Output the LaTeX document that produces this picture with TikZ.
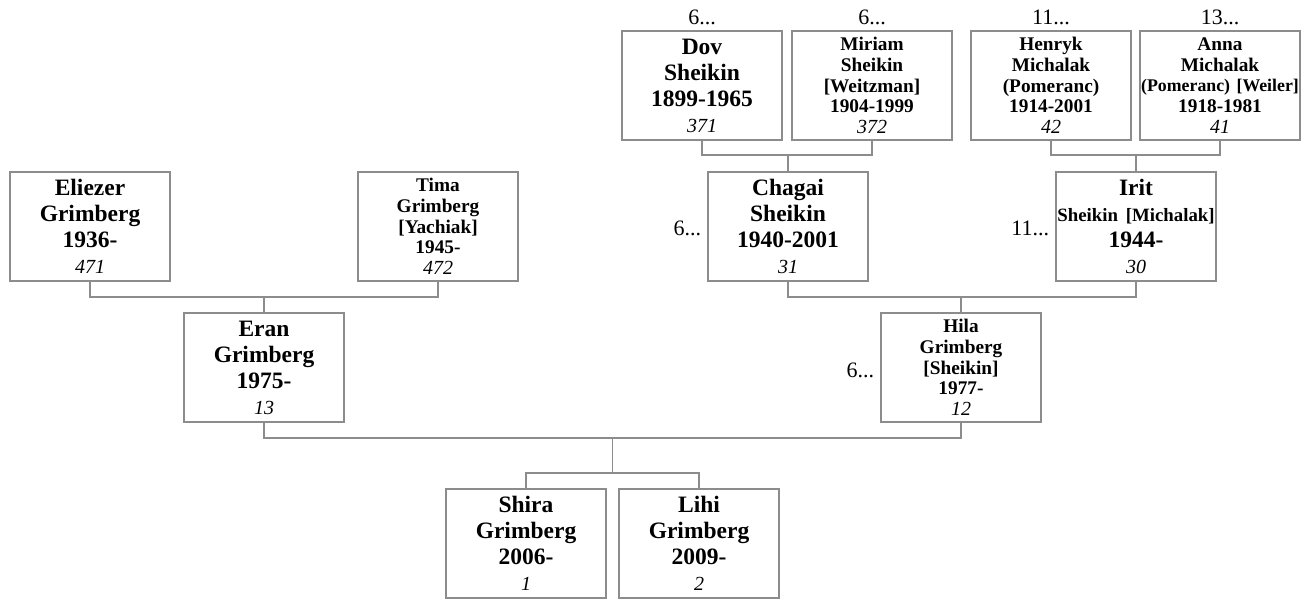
\documentclass[tikz,border=0pt]{standalone}
\usepackage{fontspec}
\setmainfont{Liberation Serif}
\usetikzlibrary{calc}
\definecolor{linegray}{RGB}{140,140,140}
\newcommand\fBig{\fontsize{23.5}{26}\selectfont}
\newcommand\fSmall{\fontsize{19.3}{20.7}\selectfont}
\newcommand\fNum{\fontsize{20}{22}\selectfont\mdseries\itshape}
\newcommand\fLab{\fontsize{22}{24}\selectfont}
\tikzset{
  person/.style={draw=linegray, line width=1.4pt, minimum width=160pt, minimum height=109pt,
    text width=158pt, align=center, inner sep=0pt, font=\bfseries\fBig},
  smallperson/.style={person, font=\bfseries\fSmall},
  conn/.style={draw=linegray, line width=1.4pt},
  gen/.style={font=\fLab, inner sep=0pt},
}
\begin{document}
\begin{tikzpicture}[x=1pt, y=-1pt]
\useasboundingbox[fill=white] (0,0) rectangle (1311,599);
% row 1
\node[person] (dov) at (702,85.5) {Dov\\Sheikin\\1899-1965\\{\fNum 371}};
\node[smallperson] (miriam) at (872,85.5) {Miriam\\Sheikin\\{}[Weitzman]\\1904-1999\\{\fNum 372}};
\node[smallperson] (henryk) at (1051,85.5) {Henryk\\Michalak\\(Pomeranc)\\1914-2001\\{\fNum 42}};
\node[smallperson] (anna) at (1220,85.5) {Anna\\Michalak\\{\fontsize{17.8}{20}\selectfont (Pomeranc) [Weiler]}\\1918-1981\\{\fNum 41}};
% row 2
\node[person] (eliezer) at (90,226.5) {Eliezer\\Grimberg\\1936-\\{\fNum 471}};
\node[smallperson] (tima) at (438,226.5) {Tima\\Grimberg\\{}[Yachiak]\\1945-\\{\fNum 472}};
\node[person] (chagai) at (788,226.5) {Chagai\\Sheikin\\1940-2001\\{\fNum 31}};
\node[person] (irit) at (1136,226.5) {Irit\\{\fontsize{18.8}{20}\selectfont Sheikin [Michalak]}\\1944-\\{\fNum 30}};
% row 3
\node[person] (eran) at (264,367.5) {Eran\\Grimberg\\1975-\\{\fNum 13}};
\node[smallperson] (hila) at (961,367.5) {Hila\\Grimberg\\{}[Sheikin]\\1977-\\{\fNum 12}};
% row 4
\node[person] (shira) at (526,543.5) {Shira\\Grimberg\\2006-\\{\fNum 1}};
\node[person] (lihi) at (699,543.5) {Lihi\\Grimberg\\2009-\\{\fNum 2}};
% generation labels
\node[gen, anchor=base] (ldov) at ($(dov.north)+(0,-6)$) {6...};
\node[gen, anchor=base] (lmiriam) at ($(miriam.north)+(0,-6)$) {6...};
\node[gen, anchor=base] (lhenryk) at ($(henryk.north)+(0,-6)$) {11...};
\node[gen, anchor=base] (lanna) at ($(anna.north)+(0,-6)$) {13...};
\node[gen, anchor=base east] (lchagai) at ($(chagai.west)+(-6,9)$) {6...};
\node[gen, anchor=base east] (lirit) at ($(irit.west)+(-6,9)$) {11...};
\node[gen, anchor=base east] (lhila) at ($(hila.west)+(-6,10)$) {6...};
% connector levels
\coordinate (r1) at (0,155);
\coordinate (r2) at (0,297);
\coordinate (r3) at (0,438);
\coordinate (r4) at (0,473);
\draw[conn] (dov.south) -- (dov.south |- r1) -- (miriam.south |- r1) -- (miriam.south);
\draw[conn] (chagai.north) -- (chagai.north |- r1);
\draw[conn] (henryk.south) -- (henryk.south |- r1) -- (anna.south |- r1) -- (anna.south);
\draw[conn] (irit.north) -- (irit.north |- r1);
\draw[conn] (eliezer.south) -- (eliezer.south |- r2) -- (tima.south |- r2) -- (tima.south);
\draw[conn] (eran.north) -- (eran.north |- r2);
\draw[conn] (chagai.south) -- (chagai.south |- r2) -- (irit.south |- r2) -- (irit.south);
\draw[conn] (hila.north) -- (hila.north |- r2);
\draw[conn] (eran.south) -- (eran.south |- r3) -- (hila.south |- r3) -- (hila.south);
\coordinate (fam) at ($(eran.south |- r3)!0.5!(hila.south |- r3)$);
\draw[conn] (fam) -- (fam |- r4);
\draw[conn] (shira.north) -- (shira.north |- r4) -- (lihi.north |- r4) -- (lihi.north);
\end{tikzpicture}
\end{document}
